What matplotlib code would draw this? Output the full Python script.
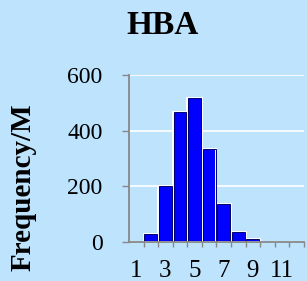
import matplotlib
matplotlib.use("Agg")
import matplotlib.pyplot as plt

bins = [1, 2, 3, 4, 5, 6, 7, 8, 9, 10, 11, 12]
freq = [0, 28, 200, 467, 518, 332, 136, 37, 10, 0, 0, 0]
xtick_labels = ["1", "3", "5", "7", "9", "11"]
xtick_pos = [1, 3, 5, 7, 9, 11]
yticks = [0, 200, 400, 600]

bg = "#bee3fd"
plt.rcParams["font.family"] = ["Liberation Serif", "DejaVu Serif"]

fig = plt.figure(figsize=(3.07, 2.81), dpi=100, facecolor=bg)
ax = fig.add_axes([0.420, 0.1388, 0.570, 0.595])
ax.set_facecolor(bg)

ax.bar(bins, freq, width=1.0, color="#0000ff", edgecolor="white", linewidth=1.4, zorder=3)
ax.bar(bins, freq, width=0.88, color="none", edgecolor="#000070", linewidth=0.7, zorder=4)

ax.set_xlim(0.5, 12.5)
ax.set_ylim(0, 600)
ax.set_yticks(yticks)
ax.set_yticklabels([str(v) for v in yticks], fontsize=17)
ax.yaxis.grid(True, color="white", linewidth=1.2, zorder=0)
ax.set_axisbelow(True)

ax.set_xticks(xtick_pos)
ax.set_xticklabels(xtick_labels, fontsize=18)
ax.set_xticks([b + 0.5 for b in bins], minor=True)
ax.tick_params(axis="x", which="major", length=0, pad=13)
ax.tick_params(axis="x", which="minor", length=3.6, color="#888888", width=1)
ax.tick_params(axis="y", length=5, color="#888888", width=1, pad=14)

for s in ["top", "right"]:
    ax.spines[s].set_visible(False)
for s in ["left", "bottom"]:
    ax.spines[s].set_color("#888888")
    ax.spines[s].set_linewidth(1.3)
    ax.spines[s].set_zorder(5)

fig.text(0.075, 0.335, "Frequency/M", rotation=90, ha="center", va="center",
         fontsize=21, fontweight="bold")
fig.text(0.529, 0.911, "HBA", ha="center", va="center", fontsize=24, fontweight="bold")

fig.savefig("out.png", dpi=100, facecolor=bg)
